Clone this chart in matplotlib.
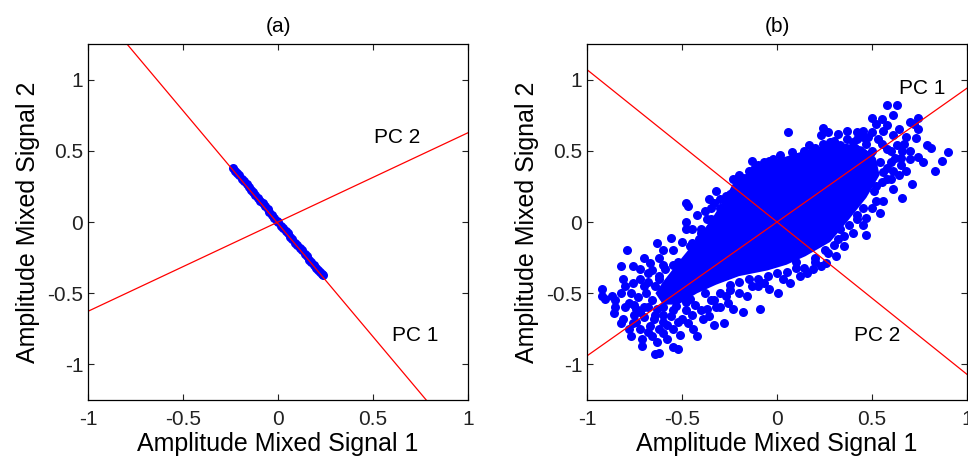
import numpy as np
import matplotlib
matplotlib.use("Agg")
import matplotlib.pyplot as plt

plt.rcParams['font.family'] = ['Liberation Sans', 'DejaVu Sans']
plt.rcParams['axes.unicode_minus'] = False

# ---- panel (a): data squeezed along PC1 ----
a_x = [-0.235, -0.225, -0.215, -0.205, -0.19, -0.18, -0.165, -0.155, -0.14, -0.13, -0.12,
       -0.105, -0.095, -0.08, -0.07, -0.055, -0.045, -0.03, -0.02, -0.005, 0.0, 0.015,
       0.025, 0.04, 0.05, 0.065, 0.075, 0.09, 0.1, 0.115, 0.125, 0.14, 0.15, 0.165,
       0.175, 0.19, 0.2, 0.21, 0.22, 0.23, 0.235]
a_y = [0.38, 0.36, 0.345, 0.33, 0.305, 0.29, 0.265, 0.245, 0.225, 0.21, 0.19,
       0.17, 0.15, 0.13, 0.11, 0.09, 0.07, 0.05, 0.03, 0.01, 0.0, -0.025,
       -0.04, -0.065, -0.08, -0.105, -0.12, -0.145, -0.16, -0.185, -0.2, -0.225, -0.24, -0.265,
       -0.28, -0.305, -0.32, -0.335, -0.35, -0.365, -0.375]
a_pc1_x = [-0.795, 0.78]
a_pc1_y = [1.25, -1.25]
a_pc2_x = [-1.0, 1.0]
a_pc2_y = [-0.627, 0.627]

# ---- panel (b): correlated cloud ----
# solid core of the cloud (outline)
core_x = [-0.6, -0.5, -0.42, -0.33, -0.26, -0.22, -0.1, 0.0, 0.12, 0.25, 0.36, 0.45, 0.52,
          0.54, 0.47, 0.38, 0.28, 0.15, 0.05, -0.05, -0.2, -0.32, -0.42, -0.52, -0.6, -0.64]
core_y = [-0.42, -0.25, -0.12, 0.05, 0.2, 0.3, 0.38, 0.44, 0.49, 0.54, 0.55, 0.53, 0.45,
          0.33, 0.17, 0.02, -0.14, -0.24, -0.3, -0.34, -0.38, -0.44, -0.5, -0.58, -0.58, -0.5]

b_pts = [
    # upper left stragglers
    (-0.47, 0.11), (-0.48, 0.13), (-0.48, 0.0), (-0.32, 0.22), (-0.36, 0.16), (-0.33, 0.13), (-0.37, 0.02),
    # lower left tail
    (-0.92, -0.47), (-0.92, -0.52), (-0.905, -0.54), (-0.86, -0.64), (-0.82, -0.71), (-0.81, -0.68),
    (-0.79, -0.2), (-0.82, -0.31), (-0.76, -0.31), (-0.63, -0.15), (-0.56, -0.11), (-0.48, -0.05),
    (-0.71, -0.82), (-0.71, -0.87), (-0.63, -0.84), (-0.62, -0.92), (-0.64, -0.93), (-0.52, -0.89),
    (-0.51, -0.79), (-0.42, -0.8), (-0.44, -0.75), (-0.39, -0.68), (-0.37, -0.61), (-0.33, -0.72),
    (-0.76, -0.71), (-0.78, -0.75), (-0.72, -0.75), (-0.76, -0.43), (-0.77, -0.5), (-0.78, -0.57),
    (-0.74, -0.61), (-0.69, -0.5), (-0.72, -0.4), (-0.68, -0.36), (-0.67, -0.29), (-0.62, -0.25),
    (-0.59, -0.33), (-0.55, -0.2), (-0.64, -0.45), (-0.58, -0.52), (-0.56, -0.66), (-0.67, -0.73),
    (-0.63, -0.61), (-0.53, -0.59), (-0.47, -0.71), (-0.46, -0.54), (-0.42, -0.26), (-0.46, -0.17),
    (-0.41, -0.12), (-0.51, -0.36), (-0.49, -0.45), (-0.81, -0.4), (-0.77, -0.8),
    (-0.7, -0.6), (-0.66, -0.55), (-0.6, -0.6), (-0.6, -0.7), (-0.55, -0.75), (-0.5, -0.68),
    (-0.45, -0.65), (-0.65, -0.68), (-0.7, -0.67), (-0.75, -0.65), (-0.7, -0.45), (-0.62, -0.4),
    (-0.57, -0.42), (-0.53, -0.48), (-0.6, -0.3), (-0.52, -0.28), (-0.45, -0.38), (-0.4, -0.42),
    (-0.38, -0.3), (-0.35, -0.2), (-0.4, -0.05), (-0.3, 0.0), (-0.38, 0.08), (-0.28, 0.1),
    (-0.25, 0.2), (-0.3, 0.16), (-0.85, -0.55), (-0.8, -0.6), (-0.73, -0.53), (-0.66, -0.8),
    (-0.58, -0.82), (-0.55, -0.88), (-0.6, -0.78),
    (-0.75, -0.58), (-0.72, -0.63), (-0.68, -0.6), (-0.64, -0.65), (-0.6, -0.65), (-0.58, -0.72),
    (-0.52, -0.7), (-0.48, -0.62), (-0.43, -0.58), (-0.4, -0.62), (-0.36, -0.66), (-0.32, -0.6),
    (-0.68, -0.42), (-0.66, -0.34), (-0.72, -0.33), (-0.7, -0.25), (-0.6, -0.2), (-0.5, -0.14),
    (-0.45, -0.05), (-0.42, 0.05), (-0.35, 0.1), (-0.62, -0.75), (-0.68, -0.77), (-0.74, -0.7),
    (-0.82, -0.5), (-0.85, -0.6), (-0.87, -0.52), (-0.8, -0.45),
    # core left edge
    (-0.62, -0.38), (-0.55, -0.3), (-0.45, -0.15), (-0.4, -0.08), (-0.35, 0.02), (-0.3, 0.1), (-0.27, 0.18),
    # below the core
    (-0.28, -0.71), (-0.18, -0.63), (-0.23, -0.61), (-0.09, -0.61), (-0.16, -0.52), (0.005, -0.5),
    (-0.04, -0.47), (0.12, -0.38), (0.16, -0.36), (0.31, -0.24), (0.26, -0.29), (0.23, -0.31),
    (-0.26, -0.57), (-0.27, -0.52), (-0.13, -0.45), (-0.07, -0.43), (0.03, -0.4), (0.07, -0.43),
    (0.19, -0.33), (0.35, -0.17), (0.32, -0.12), (0.33, -0.05),
    (-0.3, -0.6), (-0.35, -0.55), (-0.2, -0.5), (-0.1, -0.4), (0.1, -0.32), (0.25, -0.2),
    (0.4, -0.08), (0.47, -0.09), (0.54, 0.06), (0.42, 0.05),
    (0.0, -0.36), (-0.15, -0.4), (-0.25, -0.44), (0.1, -0.28), (0.2, -0.25), (0.3, -0.16),
    (0.38, -0.02), (-0.38, -0.5), (-0.48, -0.56), (-0.55, -0.62), (0.45, 0.1), (0.52, 0.25),
    (0.45, -0.02), (0.5, 0.1), (0.52, 0.15), (0.35, -0.1), (0.27, -0.22), (0.2, -0.28),
    (0.14, -0.32), (0.05, -0.35), (-0.05, -0.38), (-0.1, -0.45), (-0.2, -0.42), (-0.25, -0.48),
    (-0.3, -0.5), (-0.33, -0.55),
    # above the core
    (0.06, 0.63), (0.24, 0.66), (0.23, 0.61), (0.27, 0.63), (0.32, 0.62), (0.37, 0.64),
    (-0.13, 0.43), (-0.07, 0.42), (-0.04, 0.43), (0.016, 0.47), (-0.23, 0.3), (-0.18, 0.31),
    (-0.12, 0.37), (0.05, 0.42), (0.11, 0.46), (0.17, 0.54), (0.24, 0.55), (0.28, 0.56),
    (0.33, 0.54), (0.37, 0.58),
    (-0.2, 0.33), (-0.15, 0.36), (-0.1, 0.4), (-0.02, 0.44), (0.08, 0.49), (0.14, 0.5),
    (0.2, 0.52), (0.3, 0.57), (0.4, 0.56), (0.47, 0.55), (0.5, 0.5),
    # upper right tail
    (0.58, 0.82), (0.63, 0.82), (0.61, 0.75), (0.5, 0.73), (0.52, 0.69), (0.45, 0.64), (0.56, 0.64),
    (0.42, 0.63), (0.53, 0.58), (0.61, 0.61), (0.72, 0.69), (0.74, 0.65), (0.73, 0.59), (0.67, 0.55),
    (0.79, 0.54), (0.81, 0.52), (0.9, 0.49), (0.87, 0.43), (0.83, 0.36), (0.77, 0.42), (0.74, 0.46),
    (0.7, 0.44), (0.65, 0.45), (0.71, 0.27), (0.66, 0.17), (0.61, 0.36), (0.58, 0.3), (0.61, 0.23),
    (0.47, 0.03), (0.42, 0.02), (0.56, 0.15), (0.51, 0.22), (0.49, 0.34), (0.44, 0.29),
    (0.54, 0.42), (0.49, 0.48), (0.58, 0.51), (0.41, 0.52), (0.42, 0.42), (0.63, 0.54), (0.66, 0.5),
    (0.74, 0.73), (0.7, 0.7),
    (0.45, 0.6), (0.5, 0.63), (0.55, 0.55), (0.6, 0.5), (0.62, 0.45), (0.65, 0.4), (0.6, 0.42),
    (0.58, 0.38), (0.55, 0.28), (0.6, 0.3), (0.64, 0.33), (0.68, 0.36), (0.7, 0.5), (0.68, 0.6),
    (0.64, 0.65), (0.58, 0.68), (0.55, 0.72), (0.48, 0.6), (0.42, 0.58), (0.56, 0.35),
]
b_x = [p[0] for p in b_pts]
b_y = [p[1] for p in b_pts]

b_pc1_x = [-1.0, 1.0]
b_pc1_y = [-0.94, 0.94]
b_pc2_x = [-1.0, 1.0]
b_pc2_y = [1.07, -1.07]

ticks = [-1, -0.5, 0, 0.5, 1]
tick_labels = ['-1', '-0.5', '0', '0.5', '1']

fig = plt.figure(figsize=(9.68, 4.57), dpi=100)
ax1 = fig.add_axes([0.0909, 0.1247, 0.3926, 0.779])
ax2 = fig.add_axes([0.6064, 0.1247, 0.3926, 0.779])

ax1.plot(a_x, a_y, 'o', color='blue', markersize=6.5, markeredgewidth=0)
ax1.plot(a_pc1_x, a_pc1_y, color='red', lw=0.9)
ax1.plot(a_pc2_x, a_pc2_y, color='red', lw=0.9)
ax1.text(0.626, 0.59, 'PC 2', ha='center', va='center', fontsize=15)
ax1.text(0.72, -0.80, 'PC 1', ha='center', va='center', fontsize=15)
ax1.set_title('(a)', fontsize=15, pad=9)

ax2.fill(core_x, core_y, color='blue', lw=0)
ax2.plot(b_x, b_y, 'o', color='blue', markersize=6.5, markeredgewidth=0)
ax2.plot(b_pc1_x, b_pc1_y, color='red', lw=0.9)
ax2.plot(b_pc2_x, b_pc2_y, color='red', lw=0.9)
ax2.text(0.763, 0.94, 'PC 1', ha='center', va='center', fontsize=15)
ax2.text(0.526, -0.80, 'PC 2', ha='center', va='center', fontsize=15)
ax2.set_title('(b)', fontsize=15, pad=9)

for ax in (ax1, ax2):
    ax.set_xlim(-1, 1)
    ax.set_ylim(-1.25, 1.25)
    ax.set_xticks(ticks)
    ax.set_xticklabels(tick_labels)
    ax.set_yticks(ticks)
    ax.set_yticklabels(tick_labels)
    ax.tick_params(direction='in', top=True, right=True, length=4, width=0.8,
                   labelsize=15, colors='#222222')
    ax.tick_params(axis='x', pad=7)
    ax.set_xlabel('Amplitude Mixed Signal 1', fontsize=18, labelpad=2)
    ax.set_ylabel('Amplitude Mixed Signal 2', fontsize=18, labelpad=5)
    for s in ax.spines.values():
        s.set_linewidth(0.9)

# the "1" under the right edge of (b) is cut by the figure edge, as in the reference
fig.savefig('out.png', dpi=100)
